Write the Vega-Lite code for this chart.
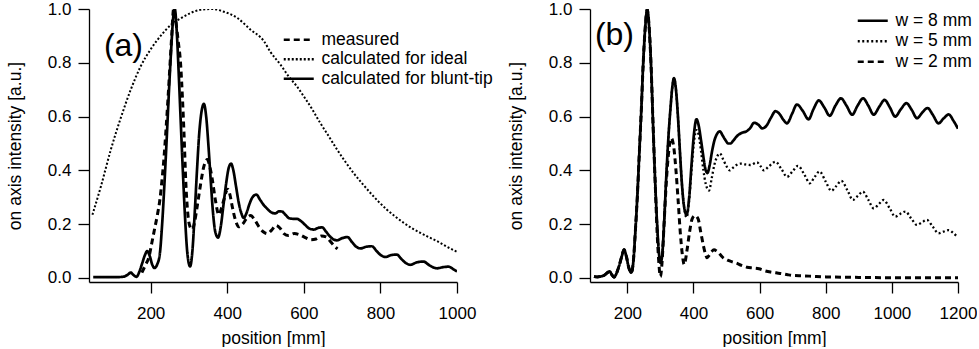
{
"$schema":"https://vega.github.io/schema/vega-lite/v6.json",
"autosize":{"type":"pad"},
"padding":{"left":6,"top":0,"right":0,"bottom":0},
"bounds":"flush",
"spacing":133,
"config":{
 "font":"Liberation Sans",
 "view":{"stroke":null},
 "axis":{"domainColor":"#000","domainWidth":1.3,"tickColor":"#000","tickWidth":1.3,"tickSize":11,"labelFontSize":17,"labelColor":"#000","titleFontSize":17.5,"titleFontWeight":"normal","titleColor":"#000","grid":false,"labelFlush":false,"labelOverlap":false,"labelBound":false},
 "axisX":{"labelPadding":12,"titlePadding":8,"format":"d"},
 "axisY":{"labelPadding":7,"titlePadding":23,"format":".1f"},
 "legend":{"orient":"none","symbolType":"M-3,0H3","symbolSize":100,"symbolStrokeColor":"#000","symbolStrokeWidth":2.6,"labelFontSize":17.5,"labelColor":"#000","labelOffset":14,"labelLimit":0,"rowPadding":1}
},
"resolve":{"scale":{"strokeDash":"independent"},"legend":{"strokeDash":"independent"}},
"datasets":{
"a":[
{"position":50,"intensity":0.003,"curve":"calculated for blunt-tip"},{"position":80,"intensity":0.003,"curve":"calculated for blunt-tip"},{"position":110,"intensity":0.003,"curve":"calculated for blunt-tip"},{"position":130,"intensity":0.005,"curve":"calculated for blunt-tip"},{"position":140,"intensity":0.012,"curve":"calculated for blunt-tip"},{"position":148,"intensity":0.02,"curve":"calculated for blunt-tip"},{"position":156,"intensity":0.01,"curve":"calculated for blunt-tip"},{"position":163,"intensity":0.004,"curve":"calculated for blunt-tip"},{"position":171,"intensity":0.025,"curve":"calculated for blunt-tip"},{"position":178,"intensity":0.055,"curve":"calculated for blunt-tip"},{"position":185,"intensity":0.085,"curve":"calculated for blunt-tip"},{"position":191,"intensity":0.1,"curve":"calculated for blunt-tip"},{"position":198,"intensity":0.08,"curve":"calculated for blunt-tip"},{"position":204,"intensity":0.05,"curve":"calculated for blunt-tip"},{"position":210,"intensity":0.037,"curve":"calculated for blunt-tip"},{"position":217,"intensity":0.05,"curve":"calculated for blunt-tip"},{"position":224,"intensity":0.09,"curve":"calculated for blunt-tip"},{"position":230,"intensity":0.2,"curve":"calculated for blunt-tip"},{"position":236,"intensity":0.35,"curve":"calculated for blunt-tip"},{"position":242,"intensity":0.52,"curve":"calculated for blunt-tip"},{"position":248,"intensity":0.7,"curve":"calculated for blunt-tip"},{"position":254,"intensity":0.86,"curve":"calculated for blunt-tip"},{"position":259,"intensity":0.97,"curve":"calculated for blunt-tip"},{"position":263,"intensity":1.0,"curve":"calculated for blunt-tip"},{"position":268,"intensity":0.92,"curve":"calculated for blunt-tip"},{"position":273,"intensity":0.77,"curve":"calculated for blunt-tip"},{"position":278,"intensity":0.6,"curve":"calculated for blunt-tip"},{"position":284,"intensity":0.4,"curve":"calculated for blunt-tip"},{"position":290,"intensity":0.22,"curve":"calculated for blunt-tip"},{"position":296,"intensity":0.09,"curve":"calculated for blunt-tip"},{"position":303,"intensity":0.043,"curve":"calculated for blunt-tip"},{"position":309,"intensity":0.1,"curve":"calculated for blunt-tip"},{"position":315,"intensity":0.24,"curve":"calculated for blunt-tip"},{"position":321,"intensity":0.4,"curve":"calculated for blunt-tip"},{"position":327,"intensity":0.54,"curve":"calculated for blunt-tip"},{"position":333,"intensity":0.62,"curve":"calculated for blunt-tip"},{"position":339,"intensity":0.647,"curve":"calculated for blunt-tip"},{"position":345,"intensity":0.6,"curve":"calculated for blunt-tip"},{"position":351,"intensity":0.49,"curve":"calculated for blunt-tip"},{"position":357,"intensity":0.36,"curve":"calculated for blunt-tip"},{"position":363,"intensity":0.24,"curve":"calculated for blunt-tip"},{"position":369,"intensity":0.17,"curve":"calculated for blunt-tip"},{"position":376,"intensity":0.15,"curve":"calculated for blunt-tip"},{"position":383,"intensity":0.19,"curve":"calculated for blunt-tip"},{"position":390,"intensity":0.27,"curve":"calculated for blunt-tip"},{"position":397,"intensity":0.35,"curve":"calculated for blunt-tip"},{"position":404,"intensity":0.41,"curve":"calculated for blunt-tip"},{"position":410,"intensity":0.425,"curve":"calculated for blunt-tip"},{"position":416,"intensity":0.4,"curve":"calculated for blunt-tip"},{"position":423,"intensity":0.34,"curve":"calculated for blunt-tip"},{"position":430,"intensity":0.28,"curve":"calculated for blunt-tip"},{"position":437,"intensity":0.24,"curve":"calculated for blunt-tip"},{"position":443,"intensity":0.223,"curve":"calculated for blunt-tip"},{"position":450,"intensity":0.24,"curve":"calculated for blunt-tip"},{"position":458,"intensity":0.275,"curve":"calculated for blunt-tip"},{"position":466,"intensity":0.3,"curve":"calculated for blunt-tip"},{"position":476,"intensity":0.31,"curve":"calculated for blunt-tip"},{"position":486,"intensity":0.29,"curve":"calculated for blunt-tip"},{"position":496,"intensity":0.27,"curve":"calculated for blunt-tip"},{"position":506,"intensity":0.255,"curve":"calculated for blunt-tip"},{"position":516,"intensity":0.243,"curve":"calculated for blunt-tip"},{"position":526,"intensity":0.24,"curve":"calculated for blunt-tip"},{"position":535,"intensity":0.248,"curve":"calculated for blunt-tip"},{"position":543,"intensity":0.247,"curve":"calculated for blunt-tip"},{"position":552,"intensity":0.235,"curve":"calculated for blunt-tip"},{"position":562,"intensity":0.222,"curve":"calculated for blunt-tip"},{"position":572,"intensity":0.22,"curve":"calculated for blunt-tip"},{"position":582,"intensity":0.22,"curve":"calculated for blunt-tip"},{"position":592,"intensity":0.212,"curve":"calculated for blunt-tip"},{"position":603,"intensity":0.198,"curve":"calculated for blunt-tip"},{"position":614,"intensity":0.184,"curve":"calculated for blunt-tip"},{"position":626,"intensity":0.18,"curve":"calculated for blunt-tip"},{"position":637,"intensity":0.186,"curve":"calculated for blunt-tip"},{"position":648,"intensity":0.188,"curve":"calculated for blunt-tip"},{"position":658,"intensity":0.172,"curve":"calculated for blunt-tip"},{"position":668,"intensity":0.155,"curve":"calculated for blunt-tip"},{"position":678,"intensity":0.143,"curve":"calculated for blunt-tip"},{"position":687,"intensity":0.14,"curve":"calculated for blunt-tip"},{"position":700,"intensity":0.148,"curve":"calculated for blunt-tip"},{"position":714,"intensity":0.152,"curve":"calculated for blunt-tip"},{"position":726,"intensity":0.133,"curve":"calculated for blunt-tip"},{"position":737,"intensity":0.116,"curve":"calculated for blunt-tip"},{"position":748,"intensity":0.11,"curve":"calculated for blunt-tip"},{"position":763,"intensity":0.116,"curve":"calculated for blunt-tip"},{"position":778,"intensity":0.118,"curve":"calculated for blunt-tip"},{"position":790,"intensity":0.1,"curve":"calculated for blunt-tip"},{"position":802,"intensity":0.084,"curve":"calculated for blunt-tip"},{"position":813,"intensity":0.078,"curve":"calculated for blunt-tip"},{"position":828,"intensity":0.085,"curve":"calculated for blunt-tip"},{"position":843,"intensity":0.087,"curve":"calculated for blunt-tip"},{"position":855,"intensity":0.07,"curve":"calculated for blunt-tip"},{"position":866,"intensity":0.056,"curve":"calculated for blunt-tip"},{"position":878,"intensity":0.049,"curve":"calculated for blunt-tip"},{"position":895,"intensity":0.058,"curve":"calculated for blunt-tip"},{"position":913,"intensity":0.061,"curve":"calculated for blunt-tip"},{"position":925,"intensity":0.05,"curve":"calculated for blunt-tip"},{"position":937,"intensity":0.04,"curve":"calculated for blunt-tip"},{"position":948,"intensity":0.036,"curve":"calculated for blunt-tip"},{"position":963,"intensity":0.04,"curve":"calculated for blunt-tip"},{"position":978,"intensity":0.042,"curve":"calculated for blunt-tip"},{"position":990,"intensity":0.033,"curve":"calculated for blunt-tip"},{"position":1000,"intensity":0.024,"curve":"calculated for blunt-tip"},
{"position":177,"intensity":0.02,"curve":"measured"},{"position":187,"intensity":0.05,"curve":"measured"},{"position":196,"intensity":0.08,"curve":"measured"},{"position":203,"intensity":0.13,"curve":"measured"},{"position":210,"intensity":0.18,"curve":"measured"},{"position":217,"intensity":0.23,"curve":"measured"},{"position":224,"intensity":0.29,"curve":"measured"},{"position":230,"intensity":0.37,"curve":"measured"},{"position":235,"intensity":0.45,"curve":"measured"},{"position":240,"intensity":0.55,"curve":"measured"},{"position":245,"intensity":0.66,"curve":"measured"},{"position":250,"intensity":0.78,"curve":"measured"},{"position":255,"intensity":0.9,"curve":"measured"},{"position":260,"intensity":1.0,"curve":"measured"},{"position":266,"intensity":0.95,"curve":"measured"},{"position":272,"intensity":0.88,"curve":"measured"},{"position":278,"intensity":0.8,"curve":"measured"},{"position":283,"intensity":0.67,"curve":"measured"},{"position":287,"intensity":0.54,"curve":"measured"},{"position":292,"intensity":0.35,"curve":"measured"},{"position":297,"intensity":0.24,"curve":"measured"},{"position":303,"intensity":0.19,"curve":"measured"},{"position":309,"intensity":0.18,"curve":"measured"},{"position":315,"intensity":0.21,"curve":"measured"},{"position":322,"intensity":0.27,"curve":"measured"},{"position":330,"intensity":0.345,"curve":"measured"},{"position":339,"intensity":0.415,"curve":"measured"},{"position":348,"intensity":0.44,"curve":"measured"},{"position":355,"intensity":0.41,"curve":"measured"},{"position":361,"intensity":0.366,"curve":"measured"},{"position":369,"intensity":0.29,"curve":"measured"},{"position":378,"intensity":0.235,"curve":"measured"},{"position":385,"intensity":0.26,"curve":"measured"},{"position":391,"intensity":0.29,"curve":"measured"},{"position":401,"intensity":0.33,"curve":"measured"},{"position":407,"intensity":0.31,"curve":"measured"},{"position":413,"intensity":0.266,"curve":"measured"},{"position":421,"intensity":0.217,"curve":"measured"},{"position":430,"intensity":0.19,"curve":"measured"},{"position":440,"intensity":0.2,"curve":"measured"},{"position":450,"intensity":0.22,"curve":"measured"},{"position":461,"intensity":0.232,"curve":"measured"},{"position":472,"intensity":0.215,"curve":"measured"},{"position":483,"intensity":0.19,"curve":"measured"},{"position":494,"intensity":0.172,"curve":"measured"},{"position":505,"intensity":0.165,"curve":"measured"},{"position":516,"intensity":0.178,"curve":"measured"},{"position":527,"intensity":0.195,"curve":"measured"},{"position":538,"intensity":0.185,"curve":"measured"},{"position":548,"intensity":0.165,"curve":"measured"},{"position":560,"intensity":0.158,"curve":"measured"},{"position":575,"intensity":0.165,"curve":"measured"},{"position":590,"intensity":0.16,"curve":"measured"},{"position":604,"intensity":0.15,"curve":"measured"},{"position":618,"intensity":0.142,"curve":"measured"},{"position":632,"intensity":0.145,"curve":"measured"},{"position":646,"intensity":0.156,"curve":"measured"},{"position":658,"intensity":0.153,"curve":"measured"},{"position":670,"intensity":0.135,"curve":"measured"},{"position":680,"intensity":0.118,"curve":"measured"},{"position":688,"intensity":0.108,"curve":"measured"},
{"position":48,"intensity":0.235,"curve":"calculated for ideal"},{"position":70,"intensity":0.34,"curve":"calculated for ideal"},{"position":96,"intensity":0.477,"curve":"calculated for ideal"},{"position":122,"intensity":0.595,"curve":"calculated for ideal"},{"position":148,"intensity":0.7,"curve":"calculated for ideal"},{"position":174,"intensity":0.787,"curve":"calculated for ideal"},{"position":200,"intensity":0.85,"curve":"calculated for ideal"},{"position":226,"intensity":0.9,"curve":"calculated for ideal"},{"position":252,"intensity":0.94,"curve":"calculated for ideal"},{"position":278,"intensity":0.965,"curve":"calculated for ideal"},{"position":304,"intensity":0.985,"curve":"calculated for ideal"},{"position":330,"intensity":0.997,"curve":"calculated for ideal"},{"position":361,"intensity":1.0,"curve":"calculated for ideal"},{"position":391,"intensity":0.99,"curve":"calculated for ideal"},{"position":426,"intensity":0.967,"curve":"calculated for ideal"},{"position":461,"intensity":0.923,"curve":"calculated for ideal"},{"position":496,"intensity":0.88,"curve":"calculated for ideal"},{"position":513,"intensity":0.84,"curve":"calculated for ideal"},{"position":539,"intensity":0.793,"curve":"calculated for ideal"},{"position":560,"intensity":0.75,"curve":"calculated for ideal"},{"position":582,"intensity":0.712,"curve":"calculated for ideal"},{"position":600,"intensity":0.675,"curve":"calculated for ideal"},{"position":622,"intensity":0.627,"curve":"calculated for ideal"},{"position":643,"intensity":0.576,"curve":"calculated for ideal"},{"position":665,"intensity":0.527,"curve":"calculated for ideal"},{"position":687,"intensity":0.477,"curve":"calculated for ideal"},{"position":708,"intensity":0.433,"curve":"calculated for ideal"},{"position":730,"intensity":0.39,"curve":"calculated for ideal"},{"position":752,"intensity":0.352,"curve":"calculated for ideal"},{"position":774,"intensity":0.316,"curve":"calculated for ideal"},{"position":795,"intensity":0.284,"curve":"calculated for ideal"},{"position":817,"intensity":0.254,"curve":"calculated for ideal"},{"position":839,"intensity":0.228,"curve":"calculated for ideal"},{"position":861,"intensity":0.205,"curve":"calculated for ideal"},{"position":882,"intensity":0.185,"curve":"calculated for ideal"},{"position":904,"intensity":0.168,"curve":"calculated for ideal"},{"position":926,"intensity":0.152,"curve":"calculated for ideal"},{"position":948,"intensity":0.137,"curve":"calculated for ideal"},{"position":974,"intensity":0.116,"curve":"calculated for ideal"},{"position":1000,"intensity":0.097,"curve":"calculated for ideal"}
],
"b":[
{"position":99,"intensity":0.005,"curve":"w = 8 mm"},{"position":110,"intensity":0.004,"curve":"w = 8 mm"},{"position":120,"intensity":0.006,"curve":"w = 8 mm"},{"position":130,"intensity":0.01,"curve":"w = 8 mm"},{"position":140,"intensity":0.02,"curve":"w = 8 mm"},{"position":146,"intensity":0.025,"curve":"w = 8 mm"},{"position":153,"intensity":0.012,"curve":"w = 8 mm"},{"position":160,"intensity":0.003,"curve":"w = 8 mm"},{"position":168,"intensity":0.02,"curve":"w = 8 mm"},{"position":175,"intensity":0.045,"curve":"w = 8 mm"},{"position":183,"intensity":0.08,"curve":"w = 8 mm"},{"position":190,"intensity":0.105,"curve":"w = 8 mm"},{"position":197,"intensity":0.08,"curve":"w = 8 mm"},{"position":204,"intensity":0.04,"curve":"w = 8 mm"},{"position":212,"intensity":0.02,"curve":"w = 8 mm"},{"position":218,"intensity":0.06,"curve":"w = 8 mm"},{"position":224,"intensity":0.17,"curve":"w = 8 mm"},{"position":230,"intensity":0.3,"curve":"w = 8 mm"},{"position":236,"intensity":0.46,"curve":"w = 8 mm"},{"position":242,"intensity":0.62,"curve":"w = 8 mm"},{"position":248,"intensity":0.8,"curve":"w = 8 mm"},{"position":254,"intensity":0.93,"curve":"w = 8 mm"},{"position":260,"intensity":0.998,"curve":"w = 8 mm"},{"position":266,"intensity":0.93,"curve":"w = 8 mm"},{"position":272,"intensity":0.78,"curve":"w = 8 mm"},{"position":278,"intensity":0.56,"curve":"w = 8 mm"},{"position":284,"intensity":0.36,"curve":"w = 8 mm"},{"position":290,"intensity":0.2,"curve":"w = 8 mm"},{"position":295,"intensity":0.1,"curve":"w = 8 mm"},{"position":300,"intensity":0.056,"curve":"w = 8 mm"},{"position":305,"intensity":0.08,"curve":"w = 8 mm"},{"position":311,"intensity":0.2,"curve":"w = 8 mm"},{"position":317,"intensity":0.36,"curve":"w = 8 mm"},{"position":324,"intensity":0.52,"curve":"w = 8 mm"},{"position":331,"intensity":0.64,"curve":"w = 8 mm"},{"position":336,"intensity":0.71,"curve":"w = 8 mm"},{"position":341,"intensity":0.743,"curve":"w = 8 mm"},{"position":347,"intensity":0.7,"curve":"w = 8 mm"},{"position":353,"intensity":0.6,"curve":"w = 8 mm"},{"position":359,"intensity":0.47,"curve":"w = 8 mm"},{"position":365,"intensity":0.35,"curve":"w = 8 mm"},{"position":371,"intensity":0.27,"curve":"w = 8 mm"},{"position":379,"intensity":0.235,"curve":"w = 8 mm"},{"position":387,"intensity":0.3,"curve":"w = 8 mm"},{"position":394,"intensity":0.42,"curve":"w = 8 mm"},{"position":401,"intensity":0.53,"curve":"w = 8 mm"},{"position":409,"intensity":0.59,"curve":"w = 8 mm"},{"position":416,"intensity":0.565,"curve":"w = 8 mm"},{"position":423,"intensity":0.51,"curve":"w = 8 mm"},{"position":430,"intensity":0.45,"curve":"w = 8 mm"},{"position":436,"intensity":0.405,"curve":"w = 8 mm"},{"position":442,"intensity":0.39,"curve":"w = 8 mm"},{"position":449,"intensity":0.42,"curve":"w = 8 mm"},{"position":456,"intensity":0.47,"curve":"w = 8 mm"},{"position":463,"intensity":0.51,"curve":"w = 8 mm"},{"position":471,"intensity":0.535,"curve":"w = 8 mm"},{"position":480,"intensity":0.545,"curve":"w = 8 mm"},{"position":488,"intensity":0.53,"curve":"w = 8 mm"},{"position":497,"intensity":0.512,"curve":"w = 8 mm"},{"position":505,"intensity":0.5,"curve":"w = 8 mm"},{"position":512,"intensity":0.5,"curve":"w = 8 mm"},{"position":520,"intensity":0.51,"curve":"w = 8 mm"},{"position":532,"intensity":0.528,"curve":"w = 8 mm"},{"position":547,"intensity":0.54,"curve":"w = 8 mm"},{"position":560,"intensity":0.545,"curve":"w = 8 mm"},{"position":572,"intensity":0.558,"curve":"w = 8 mm"},{"position":583,"intensity":0.577,"curve":"w = 8 mm"},{"position":596,"intensity":0.57,"curve":"w = 8 mm"},{"position":608,"intensity":0.556,"curve":"w = 8 mm"},{"position":620,"intensity":0.565,"curve":"w = 8 mm"},{"position":634,"intensity":0.595,"curve":"w = 8 mm"},{"position":648,"intensity":0.62,"curve":"w = 8 mm"},{"position":660,"intensity":0.61,"curve":"w = 8 mm"},{"position":672,"intensity":0.588,"curve":"w = 8 mm"},{"position":683,"intensity":0.575,"curve":"w = 8 mm"},{"position":698,"intensity":0.61,"curve":"w = 8 mm"},{"position":713,"intensity":0.645,"curve":"w = 8 mm"},{"position":730,"intensity":0.622,"curve":"w = 8 mm"},{"position":748,"intensity":0.59,"curve":"w = 8 mm"},{"position":763,"intensity":0.628,"curve":"w = 8 mm"},{"position":779,"intensity":0.66,"curve":"w = 8 mm"},{"position":796,"intensity":0.633,"curve":"w = 8 mm"},{"position":812,"intensity":0.603,"curve":"w = 8 mm"},{"position":829,"intensity":0.64,"curve":"w = 8 mm"},{"position":846,"intensity":0.668,"curve":"w = 8 mm"},{"position":863,"intensity":0.64,"curve":"w = 8 mm"},{"position":880,"intensity":0.607,"curve":"w = 8 mm"},{"position":896,"intensity":0.64,"curve":"w = 8 mm"},{"position":913,"intensity":0.668,"curve":"w = 8 mm"},{"position":929,"intensity":0.64,"curve":"w = 8 mm"},{"position":945,"intensity":0.607,"curve":"w = 8 mm"},{"position":962,"intensity":0.637,"curve":"w = 8 mm"},{"position":978,"intensity":0.662,"curve":"w = 8 mm"},{"position":994,"intensity":0.634,"curve":"w = 8 mm"},{"position":1010,"intensity":0.6,"curve":"w = 8 mm"},{"position":1027,"intensity":0.627,"curve":"w = 8 mm"},{"position":1044,"intensity":0.65,"curve":"w = 8 mm"},{"position":1060,"intensity":0.625,"curve":"w = 8 mm"},{"position":1076,"intensity":0.594,"curve":"w = 8 mm"},{"position":1092,"intensity":0.615,"curve":"w = 8 mm"},{"position":1108,"intensity":0.632,"curve":"w = 8 mm"},{"position":1124,"intensity":0.606,"curve":"w = 8 mm"},{"position":1141,"intensity":0.575,"curve":"w = 8 mm"},{"position":1157,"intensity":0.594,"curve":"w = 8 mm"},{"position":1172,"intensity":0.608,"curve":"w = 8 mm"},{"position":1186,"intensity":0.585,"curve":"w = 8 mm"},{"position":1200,"intensity":0.555,"curve":"w = 8 mm"},
{"position":99,"intensity":0.005,"curve":"w = 5 mm"},{"position":110,"intensity":0.004,"curve":"w = 5 mm"},{"position":120,"intensity":0.006,"curve":"w = 5 mm"},{"position":130,"intensity":0.01,"curve":"w = 5 mm"},{"position":140,"intensity":0.02,"curve":"w = 5 mm"},{"position":146,"intensity":0.025,"curve":"w = 5 mm"},{"position":153,"intensity":0.012,"curve":"w = 5 mm"},{"position":160,"intensity":0.003,"curve":"w = 5 mm"},{"position":168,"intensity":0.02,"curve":"w = 5 mm"},{"position":175,"intensity":0.045,"curve":"w = 5 mm"},{"position":183,"intensity":0.08,"curve":"w = 5 mm"},{"position":190,"intensity":0.105,"curve":"w = 5 mm"},{"position":197,"intensity":0.08,"curve":"w = 5 mm"},{"position":204,"intensity":0.04,"curve":"w = 5 mm"},{"position":212,"intensity":0.02,"curve":"w = 5 mm"},{"position":218,"intensity":0.06,"curve":"w = 5 mm"},{"position":224,"intensity":0.17,"curve":"w = 5 mm"},{"position":230,"intensity":0.3,"curve":"w = 5 mm"},{"position":236,"intensity":0.46,"curve":"w = 5 mm"},{"position":242,"intensity":0.62,"curve":"w = 5 mm"},{"position":248,"intensity":0.8,"curve":"w = 5 mm"},{"position":254,"intensity":0.93,"curve":"w = 5 mm"},{"position":260,"intensity":0.998,"curve":"w = 5 mm"},{"position":266,"intensity":0.93,"curve":"w = 5 mm"},{"position":272,"intensity":0.78,"curve":"w = 5 mm"},{"position":278,"intensity":0.56,"curve":"w = 5 mm"},{"position":284,"intensity":0.36,"curve":"w = 5 mm"},{"position":290,"intensity":0.2,"curve":"w = 5 mm"},{"position":295,"intensity":0.1,"curve":"w = 5 mm"},{"position":300,"intensity":0.05,"curve":"w = 5 mm"},{"position":305,"intensity":0.08,"curve":"w = 5 mm"},{"position":311,"intensity":0.2,"curve":"w = 5 mm"},{"position":317,"intensity":0.36,"curve":"w = 5 mm"},{"position":324,"intensity":0.52,"curve":"w = 5 mm"},{"position":331,"intensity":0.64,"curve":"w = 5 mm"},{"position":336,"intensity":0.71,"curve":"w = 5 mm"},{"position":341,"intensity":0.743,"curve":"w = 5 mm"},{"position":347,"intensity":0.7,"curve":"w = 5 mm"},{"position":353,"intensity":0.6,"curve":"w = 5 mm"},{"position":359,"intensity":0.47,"curve":"w = 5 mm"},{"position":365,"intensity":0.35,"curve":"w = 5 mm"},{"position":371,"intensity":0.27,"curve":"w = 5 mm"},{"position":379,"intensity":0.225,"curve":"w = 5 mm"},{"position":387,"intensity":0.29,"curve":"w = 5 mm"},{"position":394,"intensity":0.4,"curve":"w = 5 mm"},{"position":401,"intensity":0.5,"curve":"w = 5 mm"},{"position":409,"intensity":0.55,"curve":"w = 5 mm"},{"position":416,"intensity":0.53,"curve":"w = 5 mm"},{"position":423,"intensity":0.47,"curve":"w = 5 mm"},{"position":430,"intensity":0.4,"curve":"w = 5 mm"},{"position":437,"intensity":0.35,"curve":"w = 5 mm"},{"position":447,"intensity":0.325,"curve":"w = 5 mm"},{"position":455,"intensity":0.37,"curve":"w = 5 mm"},{"position":463,"intensity":0.42,"curve":"w = 5 mm"},{"position":471,"intensity":0.45,"curve":"w = 5 mm"},{"position":480,"intensity":0.463,"curve":"w = 5 mm"},{"position":490,"intensity":0.44,"curve":"w = 5 mm"},{"position":500,"intensity":0.415,"curve":"w = 5 mm"},{"position":510,"intensity":0.4,"curve":"w = 5 mm"},{"position":520,"intensity":0.41,"curve":"w = 5 mm"},{"position":530,"intensity":0.42,"curve":"w = 5 mm"},{"position":542,"intensity":0.425,"curve":"w = 5 mm"},{"position":557,"intensity":0.422,"curve":"w = 5 mm"},{"position":572,"intensity":0.42,"curve":"w = 5 mm"},{"position":592,"intensity":0.43,"curve":"w = 5 mm"},{"position":603,"intensity":0.415,"curve":"w = 5 mm"},{"position":613,"intensity":0.4,"curve":"w = 5 mm"},{"position":628,"intensity":0.415,"curve":"w = 5 mm"},{"position":648,"intensity":0.432,"curve":"w = 5 mm"},{"position":666,"intensity":0.405,"curve":"w = 5 mm"},{"position":683,"intensity":0.376,"curve":"w = 5 mm"},{"position":700,"intensity":0.397,"curve":"w = 5 mm"},{"position":716,"intensity":0.417,"curve":"w = 5 mm"},{"position":735,"intensity":0.385,"curve":"w = 5 mm"},{"position":752,"intensity":0.352,"curve":"w = 5 mm"},{"position":766,"intensity":0.375,"curve":"w = 5 mm"},{"position":781,"intensity":0.396,"curve":"w = 5 mm"},{"position":800,"intensity":0.358,"curve":"w = 5 mm"},{"position":817,"intensity":0.324,"curve":"w = 5 mm"},{"position":832,"intensity":0.342,"curve":"w = 5 mm"},{"position":847,"intensity":0.361,"curve":"w = 5 mm"},{"position":866,"intensity":0.325,"curve":"w = 5 mm"},{"position":882,"intensity":0.29,"curve":"w = 5 mm"},{"position":897,"intensity":0.305,"curve":"w = 5 mm"},{"position":912,"intensity":0.321,"curve":"w = 5 mm"},{"position":929,"intensity":0.29,"curve":"w = 5 mm"},{"position":945,"intensity":0.259,"curve":"w = 5 mm"},{"position":960,"intensity":0.274,"curve":"w = 5 mm"},{"position":975,"intensity":0.29,"curve":"w = 5 mm"},{"position":993,"intensity":0.26,"curve":"w = 5 mm"},{"position":1010,"intensity":0.228,"curve":"w = 5 mm"},{"position":1025,"intensity":0.238,"curve":"w = 5 mm"},{"position":1041,"intensity":0.247,"curve":"w = 5 mm"},{"position":1058,"intensity":0.222,"curve":"w = 5 mm"},{"position":1076,"intensity":0.197,"curve":"w = 5 mm"},{"position":1091,"intensity":0.207,"curve":"w = 5 mm"},{"position":1106,"intensity":0.216,"curve":"w = 5 mm"},{"position":1124,"intensity":0.19,"curve":"w = 5 mm"},{"position":1141,"intensity":0.166,"curve":"w = 5 mm"},{"position":1156,"intensity":0.172,"curve":"w = 5 mm"},{"position":1172,"intensity":0.178,"curve":"w = 5 mm"},{"position":1185,"intensity":0.168,"curve":"w = 5 mm"},{"position":1197,"intensity":0.154,"curve":"w = 5 mm"},
{"position":99,"intensity":0.005,"curve":"w = 2 mm"},{"position":110,"intensity":0.004,"curve":"w = 2 mm"},{"position":120,"intensity":0.006,"curve":"w = 2 mm"},{"position":130,"intensity":0.01,"curve":"w = 2 mm"},{"position":140,"intensity":0.02,"curve":"w = 2 mm"},{"position":146,"intensity":0.025,"curve":"w = 2 mm"},{"position":153,"intensity":0.012,"curve":"w = 2 mm"},{"position":160,"intensity":0.003,"curve":"w = 2 mm"},{"position":168,"intensity":0.02,"curve":"w = 2 mm"},{"position":175,"intensity":0.045,"curve":"w = 2 mm"},{"position":183,"intensity":0.08,"curve":"w = 2 mm"},{"position":190,"intensity":0.105,"curve":"w = 2 mm"},{"position":197,"intensity":0.08,"curve":"w = 2 mm"},{"position":204,"intensity":0.04,"curve":"w = 2 mm"},{"position":212,"intensity":0.02,"curve":"w = 2 mm"},{"position":218,"intensity":0.06,"curve":"w = 2 mm"},{"position":224,"intensity":0.17,"curve":"w = 2 mm"},{"position":230,"intensity":0.3,"curve":"w = 2 mm"},{"position":236,"intensity":0.46,"curve":"w = 2 mm"},{"position":242,"intensity":0.62,"curve":"w = 2 mm"},{"position":248,"intensity":0.8,"curve":"w = 2 mm"},{"position":254,"intensity":0.93,"curve":"w = 2 mm"},{"position":260,"intensity":0.998,"curve":"w = 2 mm"},{"position":266,"intensity":0.93,"curve":"w = 2 mm"},{"position":272,"intensity":0.78,"curve":"w = 2 mm"},{"position":278,"intensity":0.56,"curve":"w = 2 mm"},{"position":284,"intensity":0.36,"curve":"w = 2 mm"},{"position":290,"intensity":0.17,"curve":"w = 2 mm"},{"position":295,"intensity":0.06,"curve":"w = 2 mm"},{"position":300,"intensity":0.005,"curve":"w = 2 mm"},{"position":305,"intensity":0.06,"curve":"w = 2 mm"},{"position":311,"intensity":0.2,"curve":"w = 2 mm"},{"position":318,"intensity":0.36,"curve":"w = 2 mm"},{"position":325,"intensity":0.47,"curve":"w = 2 mm"},{"position":333,"intensity":0.52,"curve":"w = 2 mm"},{"position":340,"intensity":0.49,"curve":"w = 2 mm"},{"position":347,"intensity":0.4,"curve":"w = 2 mm"},{"position":354,"intensity":0.28,"curve":"w = 2 mm"},{"position":360,"intensity":0.17,"curve":"w = 2 mm"},{"position":366,"intensity":0.09,"curve":"w = 2 mm"},{"position":372,"intensity":0.05,"curve":"w = 2 mm"},{"position":380,"intensity":0.1,"curve":"w = 2 mm"},{"position":388,"intensity":0.17,"curve":"w = 2 mm"},{"position":396,"intensity":0.22,"curve":"w = 2 mm"},{"position":405,"intensity":0.232,"curve":"w = 2 mm"},{"position":414,"intensity":0.22,"curve":"w = 2 mm"},{"position":422,"intensity":0.17,"curve":"w = 2 mm"},{"position":430,"intensity":0.12,"curve":"w = 2 mm"},{"position":436,"intensity":0.09,"curve":"w = 2 mm"},{"position":441,"intensity":0.075,"curve":"w = 2 mm"},{"position":448,"intensity":0.085,"curve":"w = 2 mm"},{"position":455,"intensity":0.098,"curve":"w = 2 mm"},{"position":462,"intensity":0.105,"curve":"w = 2 mm"},{"position":470,"intensity":0.1,"curve":"w = 2 mm"},{"position":480,"intensity":0.088,"curve":"w = 2 mm"},{"position":490,"intensity":0.075,"curve":"w = 2 mm"},{"position":503,"intensity":0.066,"curve":"w = 2 mm"},{"position":517,"intensity":0.06,"curve":"w = 2 mm"},{"position":530,"intensity":0.055,"curve":"w = 2 mm"},{"position":545,"intensity":0.047,"curve":"w = 2 mm"},{"position":562,"intensity":0.04,"curve":"w = 2 mm"},{"position":580,"intensity":0.037,"curve":"w = 2 mm"},{"position":598,"intensity":0.034,"curve":"w = 2 mm"},{"position":615,"intensity":0.027,"curve":"w = 2 mm"},{"position":633,"intensity":0.022,"curve":"w = 2 mm"},{"position":650,"intensity":0.019,"curve":"w = 2 mm"},{"position":668,"intensity":0.016,"curve":"w = 2 mm"},{"position":685,"intensity":0.012,"curve":"w = 2 mm"},{"position":703,"intensity":0.009,"curve":"w = 2 mm"},{"position":730,"intensity":0.008,"curve":"w = 2 mm"},{"position":764,"intensity":0.006,"curve":"w = 2 mm"},{"position":800,"intensity":0.004,"curve":"w = 2 mm"},{"position":850,"intensity":0.003,"curve":"w = 2 mm"},{"position":900,"intensity":0.002,"curve":"w = 2 mm"},{"position":1000,"intensity":0.001,"curve":"w = 2 mm"},{"position":1100,"intensity":0.001,"curve":"w = 2 mm"},{"position":1200,"intensity":0.001,"curve":"w = 2 mm"}
],
"labels":[{"panel":"a","label":"(a)"},{"panel":"b","label":"(b)"}]
},
"hconcat":[
{
 "width":368,"height":273,
 "layer":[
  {"data":{"name":"a"},"transform":[{"filter":{"field":"curve","equal":"calculated for ideal"}}],"mark":{"type":"line","color":"#000","strokeWidth":2,"interpolate":"monotone","clip":true},
   "encoding":{
    "x":{"field":"position","type":"quantitative","scale":{"domain":[39,1000],"nice":false,"zero":false},"axis":{"values":[200,400,600,800,1000],"title":"position [mm]"}},
    "y":{"field":"intensity","type":"quantitative","scale":{"domain":[-0.015,1],"nice":false,"zero":false},"axis":{"values":[0,0.2,0.4,0.6,0.8,1.0],"title":"on axis intensity [a.u.]"}},
    "strokeDash":{"field":"curve","type":"nominal","scale":{"domain":["measured","calculated for ideal","calculated for blunt-tip"],"range":[[6,4],[2,2],[1,0]]},"legend":{"title":null,"legendX":201,"legendY":22,"rowPadding":0.5}}}},
  {"data":{"name":"a"},"transform":[{"filter":{"field":"curve","equal":"measured"}}],"mark":{"type":"line","color":"#000","strokeWidth":3,"interpolate":"monotone","clip":true},
   "encoding":{
    "x":{"field":"position","type":"quantitative","scale":{"domain":[39,1000],"nice":false,"zero":false},"axis":{"values":[200,400,600,800,1000],"title":"position [mm]"}},
    "y":{"field":"intensity","type":"quantitative","scale":{"domain":[-0.015,1],"nice":false,"zero":false},"axis":{"values":[0,0.2,0.4,0.6,0.8,1.0],"title":"on axis intensity [a.u.]"}},
    "strokeDash":{"field":"curve","type":"nominal","scale":{"domain":["measured","calculated for ideal","calculated for blunt-tip"],"range":[[6,4],[2,2],[1,0]]},"legend":{"title":null,"legendX":201,"legendY":22,"rowPadding":0.5}}}},
  {"data":{"name":"a"},"transform":[{"filter":{"field":"curve","equal":"calculated for blunt-tip"}}],"mark":{"type":"line","color":"#000","strokeWidth":2.7,"interpolate":"monotone","clip":true},
   "encoding":{
    "x":{"field":"position","type":"quantitative","scale":{"domain":[39,1000],"nice":false,"zero":false},"axis":{"values":[200,400,600,800,1000],"title":"position [mm]"}},
    "y":{"field":"intensity","type":"quantitative","scale":{"domain":[-0.015,1],"nice":false,"zero":false},"axis":{"values":[0,0.2,0.4,0.6,0.8,1.0],"title":"on axis intensity [a.u.]"}},
    "strokeDash":{"field":"curve","type":"nominal","scale":{"domain":["measured","calculated for ideal","calculated for blunt-tip"],"range":[[6,4],[2,2],[1,0]]},"legend":{"title":null,"legendX":201,"legendY":22,"rowPadding":0.5}}}},
  {"data":{"name":"labels"},"transform":[{"filter":{"field":"panel","equal":"a"}}],
   "mark":{"type":"text","fontSize":32,"align":"center","baseline":"middle","fill":"#000"},
   "encoding":{"x":{"datum":129,"type":"quantitative"},"y":{"datum":0.864,"type":"quantitative"},"text":{"field":"label","type":"nominal"}}}
 ]
},
{
 "width":368,"height":273,
 "layer":[
  {"data":{"name":"b"},"transform":[{"filter":{"field":"curve","equal":"w = 2 mm"}}],"mark":{"type":"line","color":"#000","strokeWidth":3,"interpolate":"monotone","clip":true},
   "encoding":{
    "x":{"field":"position","type":"quantitative","scale":{"domain":[87,1200],"nice":false,"zero":false},"axis":{"values":[200,400,600,800,1000,1200],"title":"position [mm]"}},
    "y":{"field":"intensity","type":"quantitative","scale":{"domain":[-0.015,1],"nice":false,"zero":false},"axis":{"values":[0,0.2,0.4,0.6,0.8,1.0],"title":"on axis intensity [a.u.]"}},
    "strokeDash":{"field":"curve","type":"nominal","scale":{"domain":["w = 8 mm","w = 5 mm","w = 2 mm"],"range":[[1,0],[2,2.5],[6,4]]},"legend":{"title":null,"legendX":274,"legendY":3,"rowPadding":1.5}}}},
  {"data":{"name":"b"},"transform":[{"filter":{"field":"curve","equal":"w = 5 mm"}}],"mark":{"type":"line","color":"#000","strokeWidth":2.3,"interpolate":"monotone","clip":true},
   "encoding":{
    "x":{"field":"position","type":"quantitative","scale":{"domain":[87,1200],"nice":false,"zero":false},"axis":{"values":[200,400,600,800,1000,1200],"title":"position [mm]"}},
    "y":{"field":"intensity","type":"quantitative","scale":{"domain":[-0.015,1],"nice":false,"zero":false},"axis":{"values":[0,0.2,0.4,0.6,0.8,1.0],"title":"on axis intensity [a.u.]"}},
    "strokeDash":{"field":"curve","type":"nominal","scale":{"domain":["w = 8 mm","w = 5 mm","w = 2 mm"],"range":[[1,0],[2,2.5],[6,4]]},"legend":{"title":null,"legendX":274,"legendY":3,"rowPadding":1.5}}}},
  {"data":{"name":"b"},"transform":[{"filter":{"field":"curve","equal":"w = 8 mm"}}],"mark":{"type":"line","color":"#000","strokeWidth":2.7,"interpolate":"monotone","clip":true},
   "encoding":{
    "x":{"field":"position","type":"quantitative","scale":{"domain":[87,1200],"nice":false,"zero":false},"axis":{"values":[200,400,600,800,1000,1200],"title":"position [mm]"}},
    "y":{"field":"intensity","type":"quantitative","scale":{"domain":[-0.015,1],"nice":false,"zero":false},"axis":{"values":[0,0.2,0.4,0.6,0.8,1.0],"title":"on axis intensity [a.u.]"}},
    "strokeDash":{"field":"curve","type":"nominal","scale":{"domain":["w = 8 mm","w = 5 mm","w = 2 mm"],"range":[[1,0],[2,2.5],[6,4]]},"legend":{"title":null,"legendX":274,"legendY":3,"rowPadding":1.5}}}},
  {"data":{"name":"labels"},"transform":[{"filter":{"field":"panel","equal":"b"}}],
   "mark":{"type":"text","fontSize":32,"align":"center","baseline":"middle","fill":"#000"},
   "encoding":{"x":{"datum":161,"type":"quantitative"},"y":{"datum":0.904,"type":"quantitative"},"text":{"field":"label","type":"nominal"}}}
 ]
}
]
}
